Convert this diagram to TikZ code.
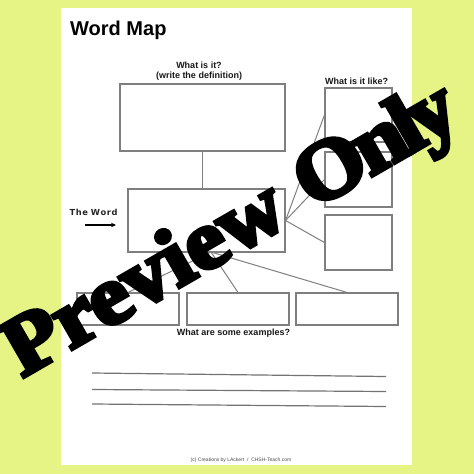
\documentclass[tikz,border=0pt]{standalone}
\usepackage{fontspec}
\setmainfont{Liberation Sans}
\newfontfamily\wmfont[FakeBold=5]{Liberation Serif Bold}
\newfontfamily\wideb{DejaVu Sans Bold}
\usetikzlibrary{arrows.meta,calc}
\definecolor{bgyellow}{HTML}{E5F485}
\definecolor{boxgray}{HTML}{7F7F7F}
\tikzset{
  wbox/.style={draw=boxgray,line width=1.1pt,rectangle,inner sep=0pt,fill=white},
  conn/.style={draw=boxgray,line width=1pt},
  lbl/.style={font=\bfseries\fontsize{9}{10}\selectfont,inner sep=0pt,text=black!90},
  wline/.style={draw=black!55,line width=1.2pt},
}
\begin{document}
\begin{tikzpicture}[x=1pt,y=-1pt]
\useasboundingbox (0,0) rectangle (474,474);
\clip (0,0) rectangle (474,474);
\fill[bgyellow] (0,0) rectangle (474,474);
\fill[white] (61,8) rectangle (412,465);
% title
\node[anchor=base west,inner sep=0pt,font=\bfseries\fontsize{20}{22}\selectfont] (title) at (70,35) {Word Map};
% labels
\node[lbl,anchor=base] (q1) at (199,68) {What is it?};
\node[lbl,anchor=base] (q1b) at (199,78.5) {(write the definition)};
\node[lbl,anchor=base west] (q2) at (325,84.5) {What is it like?};
\node[lbl,anchor=base,font=\wideb\fontsize{8.3}{10}\selectfont,text=black!85] (tw) at (93.5,215.5) {T\kern.6pt h\kern.6pt e W\kern.6pt o\kern.6pt r\kern.6pt d};
\node[lbl,anchor=base] (q3) at (233.5,335.5) {What are some examples?};
\node[anchor=base,inner sep=0pt,font=\fontsize{5}{6}\selectfont,text=black!70] (foot) at (241,461.5) {(c) Creations by LAckert \ / \ CHSH-Teach.com};
% boxes
\node[wbox,minimum width=165pt,minimum height=67pt] (def) at (202.5,117.5) {};
\node[wbox,minimum width=157pt,minimum height=63pt] (word) at (206.5,220.5) {};
\node[wbox,minimum width=67pt,minimum height=54pt] (like1) at (358.5,115) {};
\node[wbox,minimum width=67pt,minimum height=55pt] (like2) at (358.5,179.5) {};
\node[wbox,minimum width=67pt,minimum height=55pt] (like3) at (358.5,242.5) {};
\node[wbox,minimum width=102pt,minimum height=32pt] (exA) at (128,309) {};
\node[wbox,minimum width=102pt,minimum height=32pt] (exB) at (238,309) {};
\node[wbox,minimum width=102pt,minimum height=32pt] (exC) at (347,309) {};
% connectors
\draw[conn] (def.south) -- (def.south |- word.north);
\draw[conn] (word.east) -- (like1.west);
\draw[conn] (word.east) -- (like2.west);
\draw[conn] (word.east) -- (like3.west);
\coordinate (hub) at (211,252);
\draw[conn] (hub) -- (exA.north);
\draw[conn] (hub) -- (exB.north);
\draw[conn] (hub) -- (exC.north);
% arrow
\coordinate (arrs) at (85,225);
\coordinate (arre) at (116,225);
\draw[line width=1.4pt,-{Stealth[length=5pt,width=4.5pt]}] (arrs) -- (arre);
% writing lines
\coordinate (l1a) at (92,373); \coordinate (l1b) at (386,376.5);
\coordinate (l2a) at (92,389.5); \coordinate (l2b) at (386,391.5);
\coordinate (l3a) at (92,404); \coordinate (l3b) at (386,406.5);
\draw[wline] (l1a) -- (l1b);
\draw[wline] (l2a) -- (l2b);
\draw[wline] (l3a) -- (l3b);
% watermark
\node[anchor=base west,rotate=30,xscale=1.08,inner sep=0pt,font=\wmfont\fontsize{84}{84}\selectfont] (wm) at (22,378) {Preview\kern2pt\ O\kern-4pt n\kern-6pt l\kern-6pt y};
\end{tikzpicture}
\end{document}
